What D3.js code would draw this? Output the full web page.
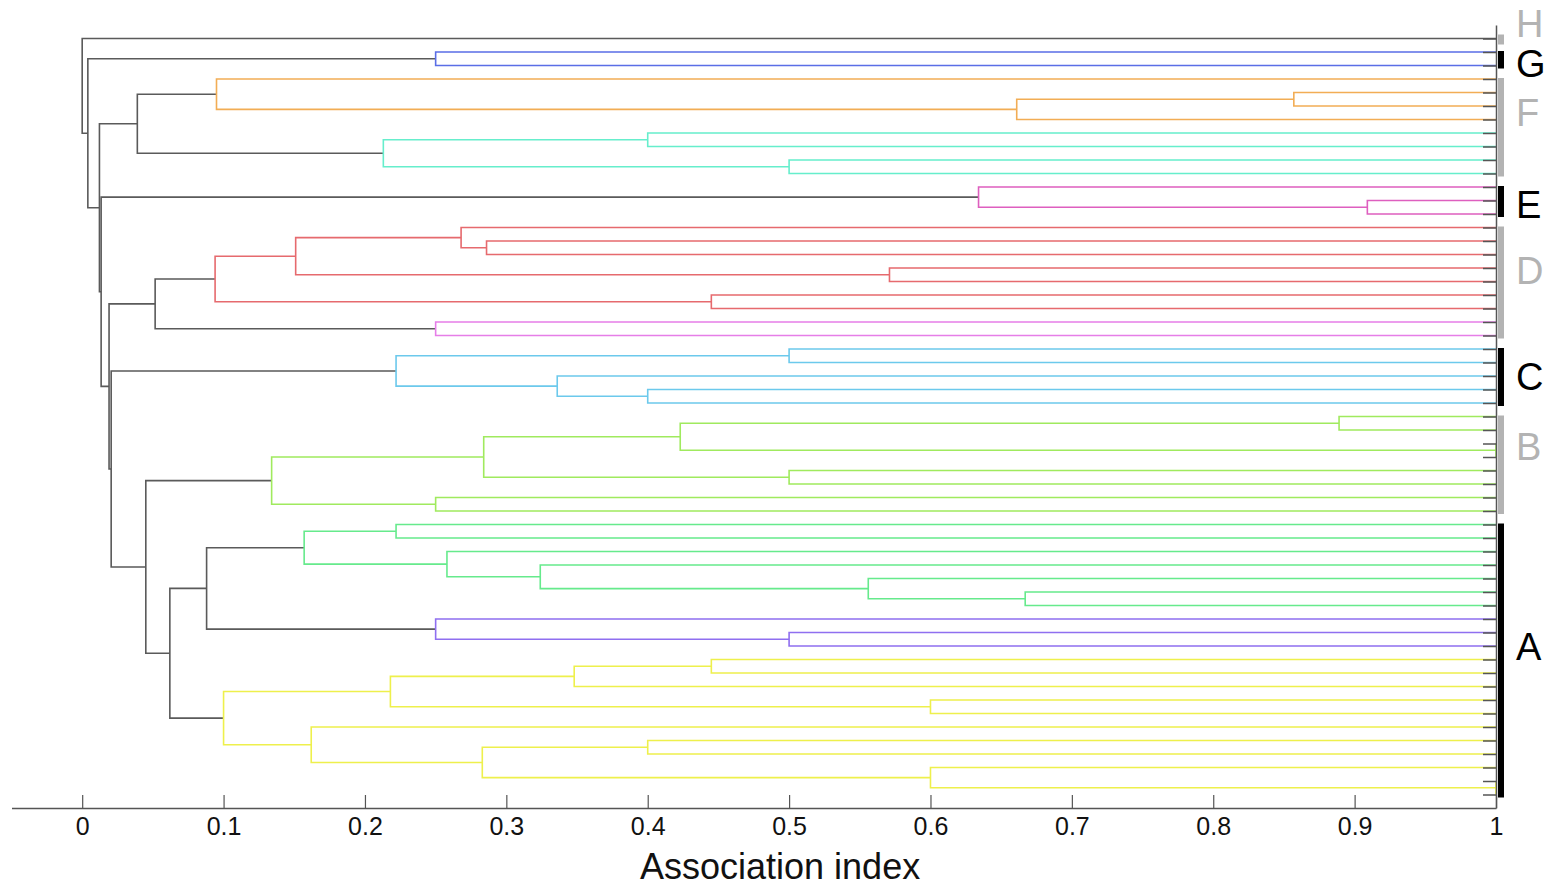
<!DOCTYPE html>
<html>
<head>
<meta charset="utf-8">
<script src="https://cdn.jsdelivr.net/npm/d3@7"></script>
<style>
  body { margin: 0; background: #fff; }
  svg { display: block; font-family: "Liberation Sans", Arial, sans-serif; }
</style>
</head>
<body>
<div id="chart"></div>
<script>
// Leaves are numbered 0..56 from top to bottom
const leafCount = 57;

// Merges: [node, child A, child B, association index, branch]
// children are leaf numbers or earlier node names
const merges = [
  ["g1", 1, 2, 0.25, "G"],
  ["o3", 4, 5, 0.857, "F1"],
  ["o2", "o3", 6, 0.661, "F1"],
  ["o1", 3, "o2", 0.095, "F1"],
  ["c2", 7, 8, 0.4, "F2"],
  ["c3", 9, 10, 0.5, "F2"],
  ["c1", "c2", "c3", 0.213, "F2"],
  ["e2", 12, 13, 0.909, "E"],
  ["e1", 11, "e2", 0.634, "E"],
  ["r4", 15, 16, 0.286, "D1"],
  ["r3", 14, "r4", 0.268, "D1"],
  ["r6", 17, 18, 0.571, "D1"],
  ["r2", "r3", "r6", 0.151, "D1"],
  ["r5", 19, 20, 0.445, "D1"],
  ["r1", "r2", "r5", 0.094, "D1"],
  ["m1", 21, 22, 0.25, "D2"],
  ["k1", 23, 24, 0.5, "C"],
  ["k4", 26, 27, 0.4, "C"],
  ["k3", 25, "k4", 0.336, "C"],
  ["k0", "k1", "k3", 0.222, "C"],
  ["b5", 28, 29, 0.889, "B"],
  ["b6", 30, 31, 1.0, "B"],
  ["b3", "b5", "b6", 0.423, "B"],
  ["b4", 32, 33, 0.5, "B"],
  ["b2", "b3", "b4", 0.284, "B"],
  ["b7", 34, 35, 0.25, "B"],
  ["b1", "b2", "b7", 0.134, "B"],
  ["a2", 36, 37, 0.222, "A1"],
  ["a6", 41, 42, 0.667, "A1"],
  ["a5", 40, "a6", 0.556, "A1"],
  ["a4", 39, "a5", 0.324, "A1"],
  ["a3", 38, "a4", 0.258, "A1"],
  ["a1", "a2", "a3", 0.157, "A1"],
  ["p2", 44, 45, 0.5, "A2"],
  ["p1", 43, "p2", 0.25, "A2"],
  ["y6", 46, 47, 0.445, "A3"],
  ["y4", "y6", 48, 0.348, "A3"],
  ["y5", 49, 50, 0.6, "A3"],
  ["y2", "y4", "y5", 0.218, "A3"],
  ["y8", 52, 53, 0.4, "A3"],
  ["y10", 55, 56, 1.0, "A3"],
  ["y9", 54, "y10", 0.6, "A3"],
  ["y7", "y8", "y9", 0.283, "A3"],
  ["y3", 51, "y7", 0.162, "A3"],
  ["y1", "y2", "y3", 0.1, "A3"],
  ["n11", "a1", "p1", 0.088, "-"],
  ["n10", "n11", "y1", 0.062, "-"],
  ["n9", "b1", "n10", 0.045, "-"],
  ["n8", "k0", "n9", 0.0205, "-"],
  ["n7", "r1", "m1", 0.0516, "-"],
  ["n6", "n7", "n8", 0.019, "-"],
  ["n5", "e1", "n6", 0.0134, "-"],
  ["n4", "o1", "c1", 0.039, "-"],
  ["n3", "n4", "n5", 0.0122, "-"],
  ["n2", "g1", "n3", 0.004, "-"],
  ["root", 0, "n2", 0.0, "-"]
];

// Groups marked on the right
const groupNames = ["H", "G", "F", "E", "D", "C", "B", "A"];
const groupFirst = [0, 1, 3, 11, 14, 23, 28, 36];
const groupLast  = [0, 2, 10, 13, 22, 27, 35, 56];

const tickValues = [0, 0.1, 0.2, 0.3, 0.4, 0.5, 0.6, 0.7, 0.8, 0.9, 1];
const tickLabels = ["0", "0.1", "0.2", "0.3", "0.4", "0.5", "0.6", "0.7", "0.8", "0.9", "1"];
const axisTitle = "Association index";

// branch colours
const branchColour = {
  "G": "#5a6ee6", "F1": "#f2ad55", "F2": "#66eecc", "E": "#de5fbf",
  "D1": "#e66a6e", "D2": "#e67ee8", "C": "#6cc9ec", "B": "#a0ea5e",
  "A1": "#66ea8c", "A2": "#8f6ff0", "A3": "#eef04c", "-": "#5a5a5a"
};

const width = 1553;
const height = 886;

const svg = d3.select("#chart")
  .append("svg")
  .attr("width", width)
  .attr("height", height);

// x = association index, y = leaf order
const x = d3.scaleLinear().domain([-0.05, 1]).range([11.5, 1496]);
const y = d3.scalePoint().domain(d3.range(leafCount)).range([25, 808]).padding(1);

// build tree from the merge list
const nodes = {};
const getNode = id => typeof id === "number" ? { id: id, leaf: true } : nodes[id];
merges.forEach(m => {
  nodes[m[0]] = { id: m[0], value: m[3], branch: m[4], children: [getNode(m[1]), getNode(m[2])] };
});
const root = d3.hierarchy(nodes["root"]);

root.eachAfter(d => {
  if (!d.children) {
    d.px = x(1);
    d.py = y(d.data.id);
  } else {
    d.px = x(d.data.value);
    d.py = d3.mean(d.children, c => c.py);
  }
});

// links: each internal node is drawn as a U shape in its branch colour
const inner = root.descendants().filter(d => d.children);
svg.append("g")
  .selectAll("path")
  .data(inner)
  .enter()
  .append("path")
  .attr("d", d => {
    const a = d.children[0], b = d.children[1];
    return `M${a.px},${a.py}H${d.px}V${b.py}H${b.px}`;
  })
  .attr("fill", "none")
  .attr("stroke", d => branchColour[d.data.branch])
  .attr("stroke-width", 1.6);

// right axis at association index 1, one tick per leaf
const yAxis = svg.append("g")
  .attr("transform", `translate(${x(1)},0)`)
  .call(d3.axisLeft(y).tickSize(13).tickSizeOuter(0).tickFormat(""));
yAxis.select(".domain").attr("stroke", "#555").attr("stroke-width", 1.5);
yAxis.selectAll(".tick line").attr("stroke", "#555").attr("stroke-width", 1.5);

// bottom axis
const xAxis = svg.append("g")
  .attr("transform", `translate(0,${y.range()[1]})`)
  .call(d3.axisBottom(x)
    .tickValues(tickValues)
    .tickFormat((d, i) => tickLabels[i])
    .tickSize(-13)
    .tickSizeOuter(0)
    .tickPadding(9));
xAxis.select(".domain").attr("stroke", "#555").attr("stroke-width", 1.5);
xAxis.selectAll(".tick line").attr("stroke", "#555").attr("stroke-width", 1.2);
xAxis.selectAll(".tick text")
  .attr("fill", "#111")
  .style("font-size", "25px")
  .style("font-family", "'Liberation Sans', Arial, sans-serif");

svg.append("text")
  .attr("x", x(0.5) - 9)
  .attr("y", 879)
  .attr("text-anchor", "middle")
  .attr("fill", "#111")
  .style("font-size", "36px")
  .text(axisTitle);

// group bars and letters on the right
const labelAt = [-1.15, 1.85, 5.48, 12.3, 17.2, 25.0, 30.2, 45.05]; // in leaf steps
const labelSize = 38;
const groupTone = i => i % 2 === 0 ? "#b3b3b3" : "#000";
const g = svg.append("g");
groupNames.forEach((name, i) => {
  let top = y(groupFirst[i]) - 1;
  let bottom = y(groupLast[i]) + 3;
  if (bottom - top < 10) {
    const mid = (top + bottom) / 2;
    top = mid - 5; bottom = mid + 5;
  }
  g.append("rect")
    .attr("x", x(1) + 2)
    .attr("y", top)
    .attr("width", 6)
    .attr("height", bottom - top)
    .attr("fill", groupTone(i));
  g.append("text")
    .attr("x", x(1) + 20)
    .attr("y", y(0) + labelAt[i] * y.step() + labelSize * 0.36)
    .attr("fill", groupTone(i))
    .style("font-size", labelSize + "px")
    .text(name);
});
</script>
</body>
</html>
